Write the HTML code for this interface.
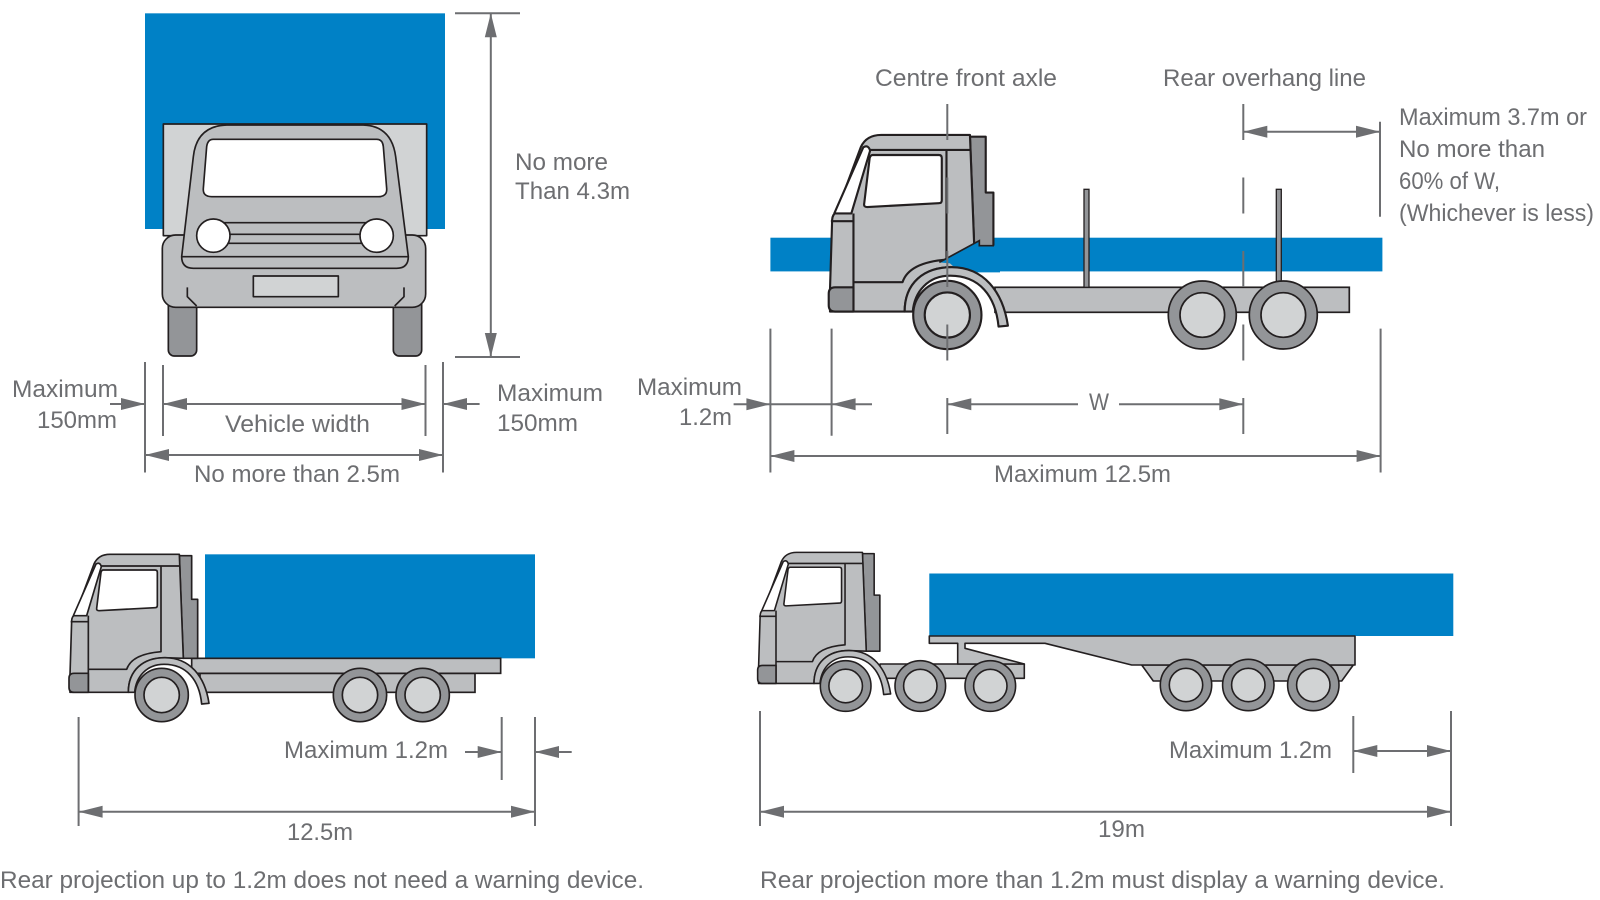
<!DOCTYPE html>
<html><head><meta charset="utf-8"><style>
html,body{margin:0;padding:0;background:#fff;}
svg{display:block;}
text{font-family:"Liberation Sans",sans-serif;font-size:24px;fill:#6D6E71;}
</style></head><body>
<svg width="1600" height="900" viewBox="0 0 1600 900" xmlns="http://www.w3.org/2000/svg">
<defs>
<g id="cabBody" stroke="#231F20" stroke-width="5" stroke-linejoin="round">
 <path d="M358 77 L395 77 L395 208 L413 208 L413 385 L370 385 Z" fill="#939598"/>
 <path d="M30 487 L30 435 L35 272 Q36 258 45 255 L102 102 Q115 73 150 73 L358 73 L370 385 L315 383 C250 383 205 420 205 487 Z" fill="#BCBEC0"/>
 <path d="M40 257 L80 257 L124 110 Q120 95 108 102 Z" fill="#fff"/>
 <path d="M32 275 L85 275 M85 257 L85 487 M124 108 L360 108 M303 108 L303 365 Q215 372 200 418 L85 418" fill="none"/>
 <path d="M130 120 L285 120 Q292 120 292 127 L292 226 Q292 233 285 233 L117 242 Q109 242 110 235 L123 127 Q125 120 130 120 Z" fill="#fff"/>
 <path d="M85 430 L85 487 L42 487 Q27 487 27 472 L27 445 Q27 430 42 430 Z" fill="#939598"/>
</g>
<g id="cabFront" stroke="#231F20" stroke-width="5" stroke-linejoin="round">
 <path d="M205 487 C205 420 250 383 315 383 C390 383 435 440 447 520 L425 522 C418 450 380 403 312 403 C260 403 228 440 224 487 Z" fill="#BCBEC0"/>
 <circle cx="305" cy="495" r="80" fill="#939598"/>
 <circle cx="305" cy="495" r="53" fill="#D1D3D4"/>
</g>
</defs>

<!-- Top-left front view truck -->
<g transform="translate(130,0) scale(0.33333)" stroke="#231F20" stroke-width="5" stroke-linejoin="round">
 <rect x="45" y="40" width="900" height="647" fill="#0081C6" stroke="none"/>
 <rect x="100" y="372" width="790" height="335" fill="#D1D3D4"/>
 <rect x="115" y="880" width="85" height="188" rx="18" fill="#939598"/>
 <rect x="790" y="880" width="85" height="188" rx="18" fill="#939598"/>
 <rect x="97" y="705" width="790" height="217" rx="40" fill="#BCBEC0"/>
 <path d="M155 770 L190 470 Q200 378 290 375 L700 375 Q785 378 797 470 L835 770 Q835 805 800 805 L190 805 Q155 805 155 770 Z" fill="#BCBEC0"/>
 <path d="M155 770 L835 770" fill="none"/>
 <path d="M250 418 L740 418 Q758 418 760 440 L770 565 Q772 590 745 590 L245 590 Q218 590 220 565 L230 440 Q233 418 250 418 Z" fill="#fff"/>
 <path d="M255 668 L735 668 M255 703 L735 703 M255 730 L735 730" fill="none"/>
 <circle cx="250" cy="707" r="50" fill="#fff"/>
 <circle cx="740" cy="707" r="50" fill="#fff"/>
 <rect x="370" y="828" width="255" height="62" fill="#D1D3D4"/>
 <path d="M172 862 L172 890 L200 918 M822 862 L822 890 L794 918" fill="none"/>
</g>

<!-- Top-right side view truck -->
<rect x="770.4" y="237.7" width="612" height="33.7" fill="#0081C6"/>
<rect x="995" y="287.3" width="354.3" height="25" fill="#BCBEC0" stroke="#231F20" stroke-width="1.7"/>
<rect x="1084" y="189.3" width="5" height="98" fill="#939598" stroke="#231F20" stroke-width="1.3"/>
<rect x="1276.3" y="189.3" width="5" height="92.4" fill="#939598" stroke="#231F20" stroke-width="1.3"/>
<g transform="translate(740,100) scale(0.33333)">
 <g transform="translate(622,645) scale(1.28) translate(-305,-495)"><use href="#cabBody"/></g>
 <polygon points="598,487 718,422 718,437 780,437 780,517 660,517 630,490" fill="#0081C6"/>
 <path d="M598 487 L718 422 L718 437 L762 437" fill="none" stroke="#231F20" stroke-width="5"/>
 <g transform="translate(622,645) scale(1.28) translate(-305,-495)"><use href="#cabFront"/></g>
</g>
<g stroke="#231F20" stroke-width="1.7">
 <circle cx="1202.3" cy="315" r="34" fill="#939598"/>
 <circle cx="1202.3" cy="315" r="22.3" fill="#D1D3D4"/>
 <circle cx="1283.3" cy="315" r="34" fill="#939598"/>
 <circle cx="1283.3" cy="315" r="22.3" fill="#D1D3D4"/>
</g>
<path d="M947.3 104 V435 M1243.3 104 V435" stroke="#6D6E71" stroke-width="2" stroke-dasharray="36 37.5" fill="none"/>

<!-- Bottom-left truck -->
<g transform="translate(60,530) scale(0.33333)">
 <rect x="435" y="73" width="990" height="312" fill="#0081C6"/>
 <g stroke="#231F20" stroke-width="5">
  <rect x="420" y="430" width="825" height="57" fill="#BCBEC0"/>
  <rect x="395" y="385" width="927" height="45" fill="#BCBEC0"/>
 </g>
 <use href="#cabBody"/>
 <use href="#cabFront"/>
 <g stroke="#231F20" stroke-width="5">
  <circle cx="900" cy="495" r="80" fill="#939598"/>
  <circle cx="900" cy="495" r="53" fill="#D1D3D4"/>
  <circle cx="1088" cy="495" r="80" fill="#939598"/>
  <circle cx="1088" cy="495" r="53" fill="#D1D3D4"/>
 </g>
</g>

<!-- Bottom-right semi-trailer -->
<rect x="929.3" y="573.5" width="524" height="62.5" fill="#0081C6"/>
<g stroke="#231F20" stroke-width="1.6" stroke-linejoin="round">
 <rect x="880" y="664" width="144.3" height="14.3" fill="#BCBEC0"/>
 <polygon points="1141.7,665 1353.3,665 1341.7,681 1153.3,681" fill="#BCBEC0"/>
 <polygon points="929.3,636 1355,636 1355,665 1131.7,665 1045,643.3 965,643.3 965,648.3 1024.3,664 957.7,664 957.7,643.3 929.3,643.3" fill="#BCBEC0"/>
</g>
<g transform="translate(735,530) scale(0.33333)">
 <g transform="translate(332,468) scale(0.95) translate(-305,-495)"><use href="#cabBody"/><use href="#cabFront"/></g>
</g>
<g stroke="#231F20" stroke-width="1.6">
 <circle cx="920.3" cy="686" r="25.3" fill="#939598"/><circle cx="920.3" cy="686" r="16.7" fill="#D1D3D4"/>
 <circle cx="990.3" cy="686" r="25.3" fill="#939598"/><circle cx="990.3" cy="686" r="16.7" fill="#D1D3D4"/>
 <circle cx="1186" cy="685" r="25.7" fill="#939598"/><circle cx="1186" cy="685" r="16.7" fill="#D1D3D4"/>
 <circle cx="1248.3" cy="685" r="25.7" fill="#939598"/><circle cx="1248.3" cy="685" r="16.7" fill="#D1D3D4"/>
 <circle cx="1313.3" cy="685" r="25.7" fill="#939598"/><circle cx="1313.3" cy="685" r="16.7" fill="#D1D3D4"/>
</g>

<!-- Dimension lines -->
<path fill="none" stroke="#6D6E71" stroke-width="2" d="
M490.8 13.3 V357 M455 13.3 H520 M455 357 H520
M145 362 V472.5 M163 365 V436 M425.5 365 V436 M443 362 V472.5
M110 404 H145 M163 404 H425.5 M443 404 H479.6 M145 455 H443
M770.4 328.6 V472.5 M831.6 328.6 V435.7 M1380.6 328.6 V472.5
M733.6 404.3 H872 M947.3 404.3 H1078 M1119 404.3 H1243.3 M770.4 456 H1380.6
M1243.3 131.7 H1380 M1380 121.7 V216.7
M78.6 717 V826 M501.7 717 V780 M535 717 V826 M465 752 H501.7 M535 752 H571.7 M78.6 811.7 H535
M760 711 V826 M1353.3 716 V773 M1451 711 V826 M1353.3 751 H1451 M760 811.7 H1451"/>
<g fill="#6D6E71">
 <polygon points="490.8,13.3 484.8,37.3 496.8,37.3"/>
 <polygon points="490.8,357 484.8,333 496.8,333"/>
 <polygon points="145,404 121,398 121,410"/>
 <polygon points="163,404 187,398 187,410"/>
 <polygon points="425.5,404 401.5,398 401.5,410"/>
 <polygon points="443,404 467,398 467,410"/>
 <polygon points="145,455 169,449 169,461"/>
 <polygon points="443,455 419,449 419,461"/>
 <polygon points="770.4,404.3 746.4,398.3 746.4,410.3"/>
 <polygon points="831.6,404.3 855.6,398.3 855.6,410.3"/>
 <polygon points="947.3,404.3 971.3,398.3 971.3,410.3"/>
 <polygon points="1243.3,404.3 1219.3,398.3 1219.3,410.3"/>
 <polygon points="770.4,456 794.4,450 794.4,462"/>
 <polygon points="1380.6,456 1356.6,450 1356.6,462"/>
 <polygon points="1243.3,131.7 1267.3,125.7 1267.3,137.7"/>
 <polygon points="1380,131.7 1356,125.7 1356,137.7"/>
 <polygon points="501.7,752 477.7,746 477.7,758"/>
 <polygon points="535,752 559,746 559,758"/>
 <polygon points="78.6,811.7 102.6,805.7 102.6,817.7"/>
 <polygon points="535,811.7 511,805.7 511,817.7"/>
 <polygon points="1353.3,751 1377.3,745 1377.3,757"/>
 <polygon points="1451,751 1427,745 1427,757"/>
 <polygon points="760,811.7 784,805.7 784,817.7"/>
 <polygon points="1451,811.7 1427,805.7 1427,817.7"/>
</g>

<!-- Labels -->
<text x="12" y="397" textLength="106" lengthAdjust="spacingAndGlyphs">Maximum</text>
<text x="37" y="428" textLength="80" lengthAdjust="spacingAndGlyphs">150mm</text>
<text x="225" y="432" textLength="145" lengthAdjust="spacingAndGlyphs">Vehicle width</text>
<text x="194" y="482" textLength="206" lengthAdjust="spacingAndGlyphs">No more than 2.5m</text>
<text x="497" y="401" textLength="106" lengthAdjust="spacingAndGlyphs">Maximum</text>
<text x="497" y="431" textLength="81" lengthAdjust="spacingAndGlyphs">150mm</text>
<text x="515" y="170" textLength="93" lengthAdjust="spacingAndGlyphs">No more</text>
<text x="515" y="199" textLength="115" lengthAdjust="spacingAndGlyphs">Than 4.3m</text>
<text x="875" y="86" textLength="182" lengthAdjust="spacingAndGlyphs">Centre front axle</text>
<text x="1163" y="86" textLength="203" lengthAdjust="spacingAndGlyphs">Rear overhang line</text>
<text x="1399" y="125" textLength="188" lengthAdjust="spacingAndGlyphs">Maximum 3.7m or</text>
<text x="1399" y="157" textLength="146" lengthAdjust="spacingAndGlyphs">No more than</text>
<text x="1399" y="189" textLength="101" lengthAdjust="spacingAndGlyphs">60% of W,</text>
<text x="1399" y="221" textLength="195" lengthAdjust="spacingAndGlyphs">(Whichever is less)</text>
<text x="637" y="395" textLength="105" lengthAdjust="spacingAndGlyphs">Maximum</text>
<text x="679" y="425" textLength="53" lengthAdjust="spacingAndGlyphs">1.2m</text>
<text x="1089" y="410" textLength="20" lengthAdjust="spacingAndGlyphs">W</text>
<text x="994" y="482" textLength="177" lengthAdjust="spacingAndGlyphs">Maximum 12.5m</text>
<text x="284" y="758" textLength="164" lengthAdjust="spacingAndGlyphs">Maximum 1.2m</text>
<text x="287" y="840" textLength="66" lengthAdjust="spacingAndGlyphs">12.5m</text>
<text x="0" y="888" textLength="644" lengthAdjust="spacingAndGlyphs">Rear projection up to 1.2m does not need a warning device.</text>
<text x="1169" y="758" textLength="163" lengthAdjust="spacingAndGlyphs">Maximum 1.2m</text>
<text x="1098" y="837" textLength="47" lengthAdjust="spacingAndGlyphs">19m</text>
<text x="760" y="888" textLength="685" lengthAdjust="spacingAndGlyphs">Rear projection more than 1.2m must display a warning device.</text>
</svg>
</body></html>
